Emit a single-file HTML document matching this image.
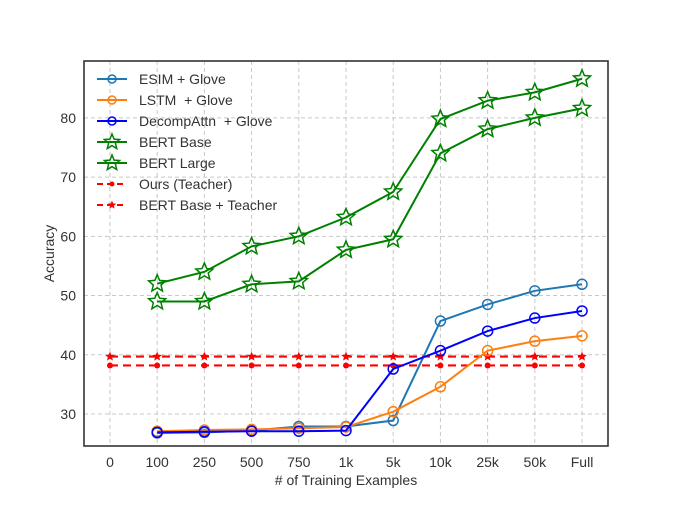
<!DOCTYPE html>
<html><head><meta charset="utf-8"><style>
body{margin:0;background:#fff;}
svg{display:block;font-family:"Liberation Sans",sans-serif;}
</style></head><body>
<svg id="chart" width="675" height="507" viewBox="0 0 675 507"></svg>
<script>
const categories = ["0","100","250","500","750","1k","5k","10k","25k","50k","Full"];
const yTicks = [30,40,50,60,70,80];
const esim = [null,26.8,26.9,27.2,27.9,27.9,28.9,45.7,48.5,50.8,51.9];
const lstm = [null,27.1,27.3,27.4,27.6,27.8,30.4,34.6,40.7,42.3,43.2];
const decomp = [null,26.9,27.0,27.1,27.1,27.2,37.6,40.7,44.0,46.2,47.4];
const bertBase = [null,49.0,49.0,51.9,52.4,57.7,59.5,74.0,78.1,80.0,81.6];
const bertLarge = [null,52.0,54.0,58.3,60.0,63.2,67.5,79.8,82.9,84.3,86.6];
const oursTeacher = [38.2,38.2,38.2,38.2,38.2,38.2,38.2,38.2,38.2,38.2,38.2];
const bertTeacher = [39.7,39.7,39.7,39.7,39.7,39.7,39.7,39.7,39.7,39.7,39.7];

const svg = document.getElementById('chart');
const NS = 'http://www.w3.org/2000/svg';
const L=84,R=608,T=61,B=446;
const xMin=-0.55,xMax=10.55,yMin=24.6,yMax=89.6;
function xs(i){return L+(i-xMin)/(xMax-xMin)*(R-L);}
function ys(v){return B-(v-yMin)/(yMax-yMin)*(B-T);}
function mk(tag,attrs,parent){const e=document.createElementNS(NS,tag);for(const k in attrs)e.setAttribute(k,attrs[k]);(parent||svg).appendChild(e);return e;}
function starPts(cx,cy,r){let p=[];for(let k=0;k<10;k++){const a=-Math.PI/2+k*Math.PI/5;const rr=k%2?r*0.45:r;p.push((cx+rr*Math.cos(a)).toFixed(1)+','+(cy+rr*Math.sin(a)).toFixed(1));}return p.join(' ');}

// grid
const grid = mk('g',{});


categories.forEach((c,i)=>{mk('line',{x1:xs(i),x2:xs(i),y1:T,y2:B,stroke:'#c8c8c8','stroke-dasharray':'4,3','stroke-width':1},grid);});
yTicks.forEach(v=>{mk('line',{x1:L,x2:R,y1:ys(v),y2:ys(v),stroke:'#c8c8c8','stroke-dasharray':'4,3','stroke-width':1},grid);});

// ticks
const xt = mk('g',{});


categories.forEach((c,i)=>{const t=mk('text',{x:xs(i),y:B+21,'text-anchor':'middle','font-size':14,fill:'#333'},xt);t.textContent=c;});
const yt = mk('g',{});


yTicks.forEach(v=>{const t=mk('text',{x:L-8,y:ys(v)+5,'text-anchor':'end','font-size':14,fill:'#333'},yt);t.textContent=v;});

function series(name,data,color,marker,dash,width){
  const g=mk('g',{});
  
  
  const pts=[];data.forEach((v,i)=>{if(v!==null)pts.push([xs(i),ys(v)]);});
  mk('polyline',{points:pts.map(p=>p.join(',')).join(' '),fill:'none',stroke:color,'stroke-width':width,'stroke-dasharray':dash||'none'},g);
  pts.forEach(p=>{
    if(marker==='circle')mk('circle',{cx:p[0],cy:p[1],r:5,fill:'none',stroke:color,'stroke-width':1.5},g);
    else if(marker==='star')mk('polygon',{points:starPts(p[0],p[1],9),fill:'none',stroke:color,'stroke-width':1.5},g);
    else if(marker==='dot')mk('circle',{cx:p[0],cy:p[1],r:3,fill:color},g);
    else if(marker==='smallstar')mk('polygon',{points:starPts(p[0],p[1],5),fill:color},g);
  });
}
series('ours-teacher-line',oursTeacher,'#ff0000','dot','8,5',2.2);
series('bert-base-teacher-line',bertTeacher,'#ff0000','smallstar','8,5',2.2);
series('esim-glove-line',esim,'#1f77b4','circle',null,2);
series('lstm-glove-line',lstm,'#ff7f0e','circle',null,2);
series('decompattn-glove-line',decomp,'#0000ff','circle',null,2);
series('bert-base-line',bertBase,'#008000','star',null,2);
series('bert-large-line',bertLarge,'#008000','star',null,2);

// frame
const fr=mk('rect',{x:L,y:T,width:R-L,height:B-T,fill:'none',stroke:'#333','stroke-width':1.6});



// axis titles
const xl=mk('text',{x:(L+R)/2,y:485,'text-anchor':'middle','font-size':14,fill:'#333'});


xl.textContent='# of Training Examples';
const yl=mk('text',{x:0,y:0,'text-anchor':'middle','font-size':14,fill:'#333',transform:`translate(54,${(T+B)/2}) rotate(-90)`});


yl.textContent='Accuracy';

// legend
const legendItems=[
 ['ESIM + Glove','#1f77b4','circle',null],
 ['LSTM  + Glove','#ff7f0e','circle',null],
 ['DecompAttn  + Glove','#0000ff','circle',null],
 ['BERT Base','#008000','star',null],
 ['BERT Large','#008000','star',null],
 ['Ours (Teacher)','#ff0000','dot','6,4'],
 ['BERT Base + Teacher','#ff0000','smallstar','6,4']];
const lg=mk('g',{});


legendItems.forEach((it,k)=>{
  const y=79+k*21;
  const e=mk('g',{},lg);
  
  
  mk('line',{x1:97,x2:127,y1:y,y2:y,stroke:it[1],'stroke-width':2,'stroke-dasharray':it[3]||'none'},e);
  if(it[2]==='circle')mk('circle',{cx:112,cy:y,r:4,fill:'none',stroke:it[1],'stroke-width':1.5},e);
  else if(it[2]==='star')mk('polygon',{points:starPts(112,y,8),fill:'none',stroke:it[1],'stroke-width':1.5},e);
  else if(it[2]==='dot')mk('circle',{cx:112,cy:y,r:2.5,fill:it[1]},e);
  else mk('polygon',{points:starPts(112,y,4.5),fill:it[1]},e);
  const t=mk('text',{x:139,y:y+5,'font-size':14,fill:'#333','xml:space':'preserve'},e);
  t.setAttribute('style','white-space:pre');
  t.textContent=it[0];
});
</script>
</body></html>
